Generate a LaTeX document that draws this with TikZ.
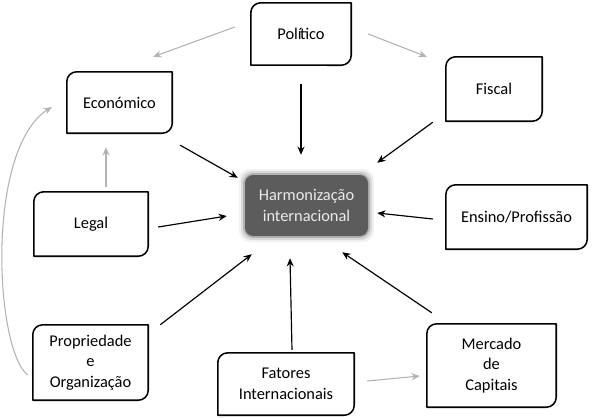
\documentclass[tikz,border=0pt]{standalone}
\usepackage{fontspec}
\setmainfont{Carlito}
\usetikzlibrary{calc,arrows.meta}

\tikzset{
  box/.style={rectangle, align=center, font=\fontsize{14}{17.5}\selectfont},
  frame/.style={line width=1.3pt, line join=round},
  blk/.style={-{Stealth[length=7pt,width=6pt]}, line width=1pt, black},
  gry/.style={-{Stealth[length=7pt,width=6pt]}, line width=0.9pt, black!30},
}

% border with rounded top left and bottom right corners
\newcommand{\cutframe}[1]{%
  \draw[frame] (#1.south west) -- ($(#1.north west)+(0,10)$)
    arc[start angle=180, end angle=90, radius=0.3cm] -- (#1.north east)
    -- ($(#1.south east)+(0,-10)$)
    arc[start angle=0, end angle=-90, radius=0.3cm] -- cycle;}

\begin{document}
\begin{tikzpicture}[x=0.03cm, y=-0.03cm]

\useasboundingbox (0,0) rectangle (596,417);

\draw (301,34) node (pol) [box, minimum width=3cm, minimum height=1.86cm] {Polí\kern-0.1em tico};
\cutframe{pol}
\draw (119.5,102.5) node (eco) [box, minimum width=3.15cm, minimum height=1.83cm] {Económico};
\cutframe{eco}
\draw (494,89) node (fis) [box, minimum width=2.88cm, minimum height=1.92cm] {Fiscal};
\cutframe{fis}
\draw (91,224) node (leg) [box, minimum width=3.42cm, minimum height=1.92cm] {Legal};
\cutframe{leg}
\draw (516.5,217) node (ens) [box, minimum width=4.23cm, minimum height=1.92cm] {Ensino/Profissão};
\cutframe{ens}
\draw (90.5,362.5) node (pro) [box, minimum width=3.45cm, minimum height=2.25cm] {Propriedade\\e\\Organização};
\cutframe{pro}
\draw (286,384) node (fat) [box, minimum width=4.08cm, minimum height=1.86cm] {Fatores\\Internacionais};
\cutframe{fat}
\draw (491.5,365.5) node (mer) [box, minimum width=3.87cm, minimum height=2.49cm] {Mercado\\de\\Capitais};
\cutframe{mer}

% centre box with soft edge
\coordinate (hsw) at (245,236);
\coordinate (hne) at (368,175);
\foreach \g/\o in {6/0.05, 4/0.10, 2/0.18} {
  \fill[black, opacity=\o, rounded corners=9pt] ($(hsw)+(-\g,\g)$) rectangle ($(hne)+(\g,-\g)$);
}
\fill[black!64, rounded corners=7pt] (hsw) rectangle (hne);
\draw (306.5,205.5) node (har) [box, text=white!92!black, minimum width=3.69cm, minimum height=1.83cm] {Harmonização\\internacional};

% arrows into the centre
\draw[blk] ($(pol.south)+(0,19)$) -- ($(pol.south |- har.north)+(0,-20)$);
\draw[blk] ($(eco.south east)+(8,12)$) -- ($(har.north west)+(-7,3)$);
\draw[blk] ($(fis.south west)+(-13,1)$) -- ($(har.north east)+(9,-12)$);
\draw[blk] ($(leg.east)+(10,3)$) -- ($(har.west)+(-18,10.5)$);
\draw[blk] ($(ens.west)+(-13,2)$) -- ($(har.east)+(9,7.5)$);
\draw[blk] ($(pro.north east)+(12,0)$) -- ($(har.south west)+(7,18)$);
\draw[blk] ($(fat.north)+(6,-3)$) -- ($(har.south)+(-16.5,22)$);
\draw[blk] ($(mer.north west)+(5,-11)$) -- ($(har.south east)+(-26,16)$);

% grey arrows
\draw[gry] ($(pol.west)+(-16,-7)$) -- ($(eco.north east)+(-19,-15)$);
\draw[gry] ($(pol.east)+(17,0)$) -- ($(fis.north west)+(-19,0)$);
\draw[gry] ($(leg.north)+(15,-5)$) -- ($(eco.south)+(-13.5,14)$);
\draw[gry] ($(fat.east)+(13,-3)$) -- ($(mer.west)+(-7,10.5)$);
\draw[gry] ($(pro.west)+(-5,12.5)$) .. controls (-5,350) and (-15,150) .. ($(eco.west)+(-15,4.5)$);

\end{tikzpicture}
\end{document}
